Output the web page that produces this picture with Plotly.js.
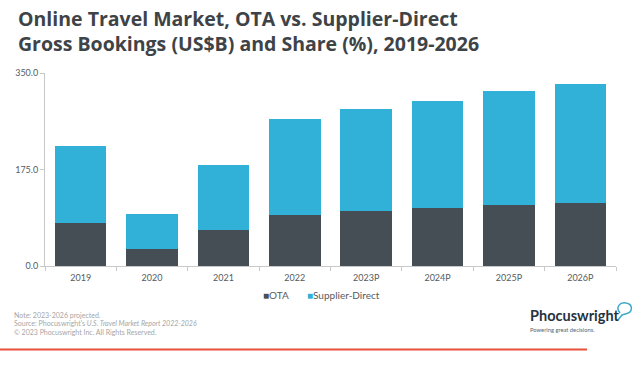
<!DOCTYPE html>
<html>
<head>
<meta charset="utf-8">
<script src="https://cdn.plot.ly/plotly-3.0.1.min.js"></script>
<style>html,body{margin:0;padding:0;background:#fff;}#chart{width:640px;height:365px;}</style>
</head>
<body>
<div id="chart"></div>
<script>
// ---- data ----
const categories = ['2019', '2020', '2021', '2022', '2023P', '2024P', '2025P', '2026P'];
const otaValues = [77.4, 30.8, 65.9, 93.1, 99.7, 105.7, 110.6, 114.8];
const supplierValues = [140.2, 63.5, 116.7, 172.9, 185.0, 193.5, 206.2, 215.2];
const yTickVals = [0, 175, 350];
const seriesNames = ['OTA', 'Supplier-Direct'];
const seriesColors = ['#454e55', '#31b0d8'];
const titleLines = ['Online Travel Market, OTA vs. Supplier-Direct', 'Gross Bookings (US$B) and Share (%), 2019-2026'];
const footLines = ['Note: 2023-2026 projected.', "Source: Phocuswright's <i>U.S. Travel Market Report 2022-2026</i>", '© 2023 Phocuswright Inc. All Rights Reserved.'];

// ---- layout helpers (pixel -> paper) ----
const W = 640, H = 365, M = {l: 45, r: 24, t: 73, b: 99};
const pw = W - M.l - M.r, ph = H - M.t - M.b;
const px = x => (x - M.l) / pw;
const py = y => (H - M.b - y) / ph;

const FONT = 'Lato, "Open Sans", sans-serif';
const TFONT = '"Open Sans", Lato, sans-serif';

const traces = [
  {type: 'bar', name: seriesNames[0], x: categories, y: otaValues,
   marker: {color: seriesColors[0]}, hoverinfo: 'skip', showlegend: false},
  {type: 'bar', name: seriesNames[1], x: categories, y: supplierValues,
   marker: {color: seriesColors[1]}, hoverinfo: 'skip', showlegend: false}
];

const ann = [];
ann.push({text: titleLines.join('<br>'), align: 'left', xref: 'paper', yref: 'paper', x: px(16), y: py(31), xanchor: 'left', yanchor: 'middle',
  showarrow: false, font: {family: TFONT, size: 19.5, color: '#3e4347', weight: 'bold'}});
// legend entries (coloured square + label)
const legX = [261, 305];
seriesNames.forEach((n, i) => ann.push({
  text: '<span style="color:' + seriesColors[i] + '">■</span>' + n,
  xref: 'paper', yref: 'paper', x: px(legX[i]), y: py(295), xanchor: 'left', yanchor: 'middle',
  showarrow: false, font: {family: FONT, size: 10, color: '#555b60'}}));
const footY = [315, 323.3, 331.7];
footLines.forEach((t, i) => ann.push({text: t, xref: 'paper', yref: 'paper', x: px(12), y: py(footY[i]),
  xanchor: 'left', yanchor: 'middle', showarrow: false, font: {family: FONT, size: 7, color: '#a6a6a6'}}));
ann.push({text: 'Phocuswright', xref: 'paper', yref: 'paper', x: px(528), y: py(315), xanchor: 'left', yanchor: 'middle',
  showarrow: false, font: {family: 'Lato, sans-serif', size: 14.5, color: '#26333f', weight: 'bold'}});
ann.push({text: 'Powering great decisions.', xref: 'paper', yref: 'paper', x: px(528), y: py(329), xanchor: 'left', yanchor: 'middle',
  showarrow: false, font: {family: FONT, size: 5.8, color: '#5a6670'}});
ann.push({text: 'Phocuswright', xref: 'paper', yref: 'paper', x: px(285), y: py(170), xanchor: 'center', yanchor: 'middle',
  showarrow: false, font: {family: FONT, size: 44, color: 'rgba(0,0,0,0.022)', weight: 'bold'}});

const bubble = 'M ' + px(620) + ',' + py(313) +
  ' C ' + px(615) + ',' + py(307) + ' ' + px(620) + ',' + py(302) + ' ' + px(626) + ',' + py(303) +
  ' C ' + px(633) + ',' + py(304) + ' ' + px(633) + ',' + py(312) + ' ' + px(627) + ',' + py(313.5) +
  ' L ' + px(622) + ',' + py(315) + ' L ' + px(618) + ',' + py(320);

const layout = {
  width: W, height: H,
  margin: M,
  paper_bgcolor: '#ffffff', plot_bgcolor: '#ffffff',
  barmode: 'stack', bargap: 0.28,
  font: {family: FONT, color: '#555b60'},
  showlegend: false,
  xaxis: {type: 'category', showline: true, linecolor: '#c9c9c9', linewidth: 1, ticks: 'outside',
    tickson: 'boundaries', ticklen: 4, tickcolor: '#c9c9c9', tickfont: {size: 9, color: '#555b60'},
    ticklabelstandoff: 3, showgrid: false, zeroline: false, fixedrange: true},
  yaxis: {range: [0, 350], tickvals: yTickVals, tickformat: '.1f', showline: true, linecolor: '#c9c9c9',
    ticks: 'outside', ticklen: 4, tickcolor: '#c9c9c9', tickfont: {size: 9, color: '#555b60'},
    showgrid: false, zeroline: false, fixedrange: true},
  annotations: ann,
  shapes: [
    {type: 'line', xref: 'paper', yref: 'paper', x0: px(0), x1: px(587), y0: py(349.5), y1: py(349.5),
     line: {color: '#e8503a', width: 2}},
    {type: 'path', xref: 'paper', yref: 'paper', path: bubble, line: {color: '#3fa9c9', width: 1.5}}
  ]
};

Plotly.newPlot('chart', traces, layout, {displayModeBar: false, staticPlot: true});
</script>
</body>
</html>
